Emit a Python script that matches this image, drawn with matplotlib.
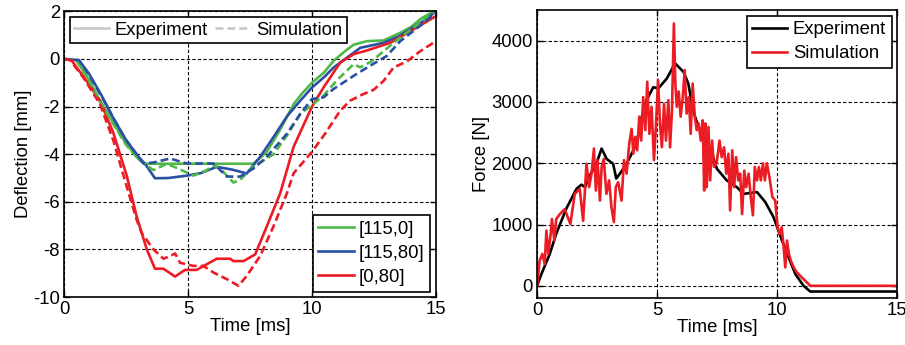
import matplotlib.pyplot as plt
import numpy as np
from matplotlib.lines import Line2D

plt.rcParams['font.family'] = ['Liberation Sans', 'DejaVu Sans']
plt.rcParams['font.size'] = 13.3
plt.rcParams['axes.unicode_minus'] = False

# --- deflection data (left) ---
t_g_exp = [0, 0.5, 1.0, 1.45, 2.0, 2.5, 3.0, 3.3, 4.0, 5.0, 6.0, 7.0, 7.64, 8.18, 8.7, 9.26, 9.6, 10.0, 10.5, 10.87, 11.3, 11.68, 12.22, 12.89, 13.56, 14.0, 14.4, 14.91, 15.0]
d_g_exp = [0, -0.05, -0.85, -1.75, -2.7, -3.55, -4.2, -4.4, -4.4, -4.4, -4.4, -4.4, -4.4, -3.9, -3.0, -1.9, -1.45, -1.0, -0.55, -0.08, 0.3, 0.6, 0.75, 0.78, 1.1, 1.35, 1.7, 2.0, 2.1]

t_g_sim = [0, 0.5, 1.0, 1.45, 2.0, 2.5, 3.0, 3.3, 3.61, 4.14, 4.6, 5.22, 5.76, 6.03, 6.3, 6.83, 7.1, 7.64, 8.45, 9.0, 9.53, 10.06, 10.5, 11.0, 11.5, 11.68, 11.95, 12.4, 12.89, 13.56, 14.2, 15.0]
d_g_sim = [0, -0.05, -0.9, -1.8, -2.75, -3.6, -4.2, -4.45, -4.67, -4.4, -4.6, -4.9, -4.67, -4.46, -4.6, -5.19, -5.08, -4.53, -4.0, -3.2, -2.3, -1.89, -1.5, -0.9, -0.4, -0.22, -0.35, -0.1, 0.33, 0.9, 1.4, 2.0]

t_b_exp = [0, 0.6, 1.0, 1.5, 2.0, 2.5, 3.0, 3.3, 3.67, 4.2, 4.95, 5.5, 6.16, 6.8, 7.37, 7.91, 8.5, 9.0, 9.53, 10.0, 10.5, 10.87, 11.4, 11.95, 12.89, 13.5, 13.96, 14.5, 15.0]
d_b_exp = [0, -0.05, -0.6, -1.5, -2.5, -3.4, -4.1, -4.45, -5.01, -5.0, -4.9, -4.8, -4.53, -4.65, -4.81, -4.11, -3.2, -2.4, -1.75, -1.2, -0.75, -0.36, 0.05, 0.47, 0.68, 0.95, 1.25, 1.6, 2.0]

t_b_sim = [0, 0.6, 1.0, 1.5, 2.0, 2.5, 3.0, 3.2, 3.6, 4.28, 4.95, 6.03, 6.57, 7.1, 7.64, 8.18, 8.99, 9.53, 10.0, 10.47, 10.87, 11.68, 12.22, 13.02, 13.56, 14.37, 15.0]
d_b_sim = [0, -0.05, -0.65, -1.55, -2.5, -3.4, -4.1, -4.39, -4.35, -4.18, -4.39, -4.39, -4.94, -4.94, -4.6, -4.11, -3.14, -2.31, -1.68, -1.61, -1.26, -0.71, -0.36, 0.13, 0.75, 1.4, 1.95]

t_r_exp = [0, 0.3, 0.91, 1.45, 1.99, 2.53, 2.93, 3.34, 3.67, 4.01, 4.48, 4.88, 5.35, 6.16, 6.7, 6.83, 7.24, 7.71, 8.18, 8.72, 9.26, 10.0, 10.47, 11.14, 11.68, 12.22, 13.16, 14.1, 15.0]
d_r_exp = [0, -0.05, -0.92, -1.75, -3.1, -4.9, -6.61, -8.0, -8.81, -8.81, -9.14, -8.86, -8.86, -8.39, -8.39, -8.49, -8.49, -8.21, -7.03, -5.64, -3.69, -2.0, -1.19, -0.15, 0.2, 0.36, 0.68, 1.25, 1.8]

t_r_sim = [0, 0.25, 0.78, 1.45, 1.99, 2.53, 2.93, 3.13, 3.61, 4.01, 4.28, 4.48, 4.68, 5.22, 5.62, 6.03, 6.57, 7.04, 7.37, 7.91, 8.45, 8.99, 9.26, 10.0, 10.53, 11.14, 11.54, 12.08, 12.48, 12.89, 13.29, 13.83, 14.37, 15.0]
d_r_sim = [0, -0.05, -0.78, -1.89, -3.42, -5.36, -6.75, -7.31, -8.0, -8.39, -8.28, -8.17, -8.56, -8.69, -8.69, -8.97, -9.25, -9.53, -9.11, -8.28, -7.03, -5.64, -4.8, -3.9, -3.14, -2.17, -1.75, -1.47, -1.3, -0.92, -0.36, -0.1, 0.33, 0.75]

# --- force data (right) ---
t_f_exp = [0, 0.18, 0.53, 0.8, 1.22, 1.64, 1.85, 2.0, 2.2, 2.48, 2.69, 2.9, 3.17, 3.3, 3.45, 3.73, 4.15, 4.36, 4.56, 4.84, 5.05, 5.4, 5.75, 6.1, 6.3, 6.5, 6.72, 7.07, 7.28, 7.49, 7.9, 8.32, 8.6, 9.16, 9.5, 9.85, 10.2, 10.48, 10.76, 11.1, 11.38, 15.0]
f_exp = [0, 190, 520, 850, 1260, 1580, 1650, 1610, 1800, 2000, 2240, 2070, 1990, 1750, 1830, 1990, 2320, 2760, 3030, 3240, 3220, 3380, 3630, 3490, 3300, 2860, 2590, 2370, 2160, 1910, 1720, 1610, 1500, 1530, 1370, 1120, 740, 460, 190, 0, -93, -93]

t_f_sim = [0, 0.11, 0.22, 0.32, 0.39, 0.47, 0.57, 0.62, 0.72, 0.8, 0.95, 1.15, 1.39, 1.57, 1.78, 1.92, 2.06, 2.17, 2.27, 2.37, 2.45, 2.52, 2.62, 2.69, 2.78, 2.89, 3.0, 3.1, 3.2, 3.28, 3.38, 3.52, 3.62, 3.73, 3.84, 3.94, 4.01, 4.09, 4.17, 4.26, 4.34, 4.42, 4.51, 4.59, 4.68, 4.77, 4.87, 4.95, 5.04, 5.12, 5.2, 5.29, 5.37, 5.47, 5.54, 5.62, 5.7, 5.76, 5.82, 5.9, 5.98, 6.07, 6.15, 6.23, 6.32, 6.4, 6.48, 6.57, 6.65, 6.73, 6.82, 6.9, 6.96, 7.01, 7.07, 7.14, 7.21, 7.29, 7.37, 7.48, 7.6, 7.69, 7.79, 7.88, 7.97, 8.04, 8.13, 8.21, 8.29, 8.38, 8.46, 8.54, 8.63, 8.71, 8.81, 8.9, 8.99, 9.07, 9.16, 9.24, 9.32, 9.41, 9.49, 9.57, 9.68, 9.8, 9.92, 10.02, 10.1, 10.19, 10.27, 10.34, 10.41, 10.49, 10.57, 10.69, 10.82, 11.03, 11.24, 11.38, 15.0]
f_sim = [0, 410, 520, 355, 900, 520, 850, 1090, 740, 1090, 1170, 1250, 1010, 1500, 1580, 1060, 1990, 1610, 1830, 2240, 1555, 2050, 1390, 1940, 2070, 1500, 1720, 1280, 1040, 1610, 1690, 1390, 2050, 1830, 2320, 2560, 2155, 2430, 2210, 2760, 2370, 3080, 2540, 3330, 2480, 2920, 2050, 2590, 3360, 2650, 2260, 2970, 2370, 3030, 2260, 2865, 4280, 3300, 2920, 3170, 2760, 3080, 3520, 2810, 3080, 2480, 3300, 2760, 2540, 2650, 2370, 2700, 1555, 2650, 1610, 2590, 1720, 2370, 1940, 2000, 2370, 2100, 2260, 1830, 2155, 1230, 2210, 1610, 2100, 1720, 1830, 1170, 1880, 1610, 1830, 1450, 1150, 1940, 1720, 1940, 1720, 2000, 1720, 2000, 1770, 1450, 1390, 955, 845, 955, 630, 300, 740, 520, 410, 300, 220, 135, 55, 0, 0]

green = '#4fb848'
blue = '#2a4fa3'
red = '#ec1c24'
lw = 1.9

fig = plt.figure(figsize=(9.05, 3.45), dpi=100)
ax1 = fig.add_axes([0.0707, 0.139, 0.411, 0.828])
ax2 = fig.add_axes([0.5934, 0.136, 0.398, 0.835])

for ax in (ax1, ax2):
    ax.grid(True, color='black', linestyle=(0, (3, 2)), linewidth=0.8)
    ax.tick_params(direction='in', top=True, right=True, length=4, width=1, pad=3)
    for s in ax.spines.values():
        s.set_linewidth(1.2)

ax1.plot(t_g_exp, d_g_exp, color=green, lw=lw)
ax1.plot(t_b_exp, d_b_exp, color=blue, lw=lw)
ax1.plot(t_r_exp, d_r_exp, color=red, lw=lw)
ax1.plot(t_g_sim, d_g_sim, color=green, lw=lw, ls=(0, (3, 1.5)))
ax1.plot(t_b_sim, d_b_sim, color=blue, lw=lw, ls=(0, (3, 1.5)))
ax1.plot(t_r_sim, d_r_sim, color=red, lw=lw, ls=(0, (3, 1.5)))
ax1.set_xlim(0, 15)
ax1.set_ylim(-10, 2)
ax1.set_xticks([0, 5, 10, 15])
ax1.set_yticks([-10, -8, -6, -4, -2, 0, 2])
ax1.set_xlabel('Time [ms]', labelpad=0)
ax1.set_ylabel('Deflection [mm]', labelpad=1)

grey = '#c8c8c8'
h_type = [Line2D([], [], color=grey, lw=lw), Line2D([], [], color=grey, lw=lw, ls=(0, (3, 1.5)))]
leg1 = ax1.legend(h_type, ['Experiment', 'Simulation'], loc='upper left', ncol=2,
                  fancybox=False, edgecolor='black', framealpha=1, handlelength=1.9,
                  handletextpad=0.3, columnspacing=0.4, borderaxespad=0.3,
                  borderpad=0.25)
leg1.get_frame().set_linewidth(1.2)
ax1.add_artist(leg1)
h_pos = [Line2D([], [], color=c, lw=lw) for c in (green, blue, red)]
leg2 = ax1.legend(h_pos, ['[115,0]', '[115,80]', '[0,80]'], loc='lower right',
                  fancybox=False, edgecolor='black', framealpha=1, handlelength=1.9,
                  handletextpad=0.3, borderaxespad=0.3, labelspacing=0.38, borderpad=0.3)
leg2.get_frame().set_linewidth(1.2)

ax2.plot(t_f_exp, f_exp, color='black', lw=lw, label='Experiment')
ax2.plot(t_f_sim, f_sim, color=red, lw=lw, label='Simulation')
ax2.set_xlim(0, 15)
ax2.set_ylim(-200, 4500)
ax2.set_xticks([0, 5, 10, 15])
ax2.set_yticks([0, 1000, 2000, 3000, 4000])
ax2.set_xlabel('Time [ms]', labelpad=0)
ax2.set_ylabel('Force [N]', labelpad=1)
leg3 = ax2.legend(loc='upper right', fancybox=False, edgecolor='black', framealpha=1,
                  handlelength=1.9, handletextpad=0.3, borderaxespad=0.3,
                  labelspacing=0.38, borderpad=0.3)
leg3.get_frame().set_linewidth(1.2)

fig.savefig('out.png', dpi=100)
